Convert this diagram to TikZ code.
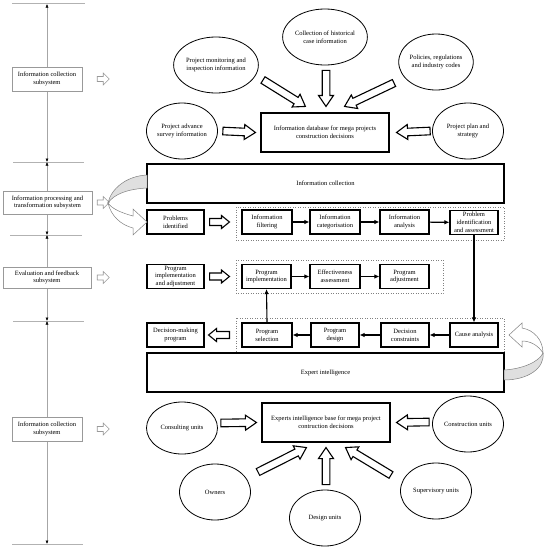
\documentclass[tikz,border=0pt]{standalone}
\usepackage{fontspec}
\setmainfont{Liberation Serif}
\usetikzlibrary{shapes.geometric,arrows.meta,calc}

% hollow block arrow: [style]{from}{to}{shaft half width}{head half width}{head length}
\newcommand{\hollowarrow}[6][]{%
  \path let \p1=#2, \p2=#3, \n1={atan2(\y2-\y1,\x2-\x1)}, \n2={veclen(\x2-\x1,\y2-\y1)} in
    \pgfextra{\xdef\harot{\n1}\xdef\halen{\n2}\xdef\hax{\x1}\xdef\hay{\y1}};
  \draw[#1,shift={(\hax,\hay)},rotate=\harot]
    (0,-#4) -- ({\halen-#6},-#4) -- ({\halen-#6},-#5) -- (\halen,0)
    -- ({\halen-#6},#5) -- ({\halen-#6},#4) -- (0,#4) -- cycle;
}

\begin{document}
\begin{tikzpicture}[x=1pt,y=-1pt,font=\fontsize{6.5}{7.8}\selectfont,
  box/.style={draw,line width=1.1pt,inner sep=1pt,align=center,minimum height=24pt},
  bigbox/.style={draw,line width=1.1pt,minimum width=357pt,minimum height=39pt},
  blob/.style={draw,ellipse,line width=0.8pt,minimum width=71pt,minimum height=56pt,inner sep=0pt,align=center},
  sidebox/.style={draw=gray!80,line width=0.5pt,fill=white,align=center,inner sep=1pt},
  groupframe/.style={draw=gray,dotted,line width=0.5pt},
  flow/.style={line width=1.1pt,-{Latex[length=5pt,width=4.5pt]}},
  hollow/.style={draw=black,line width=1.1pt,fill=white},
  hollowgray/.style={draw=gray!80,line width=0.6pt,fill=white},
  tickline/.style={gray!60,line width=0.5pt},
  spanline/.style={gray!70,line width=0.5pt,{Latex[black,length=3.5pt,width=3pt]}-{Latex[black,length=3.5pt,width=3pt]}}]
  \useasboundingbox (0,0) rectangle (548,550);

  % left time line
  \draw[tickline] (12,3) -- (85,3);
  \draw[tickline] (13,162) -- (84,162);
  \draw[tickline] (10,235) -- (82,235);
  \draw[tickline] (13,321) -- (84,321);
  \draw[tickline] (12,544) -- (83,544);
  \draw[spanline] (47,4) -- (47,162);
  \draw[spanline] (47,162) -- (47,235);
  \draw[spanline] (47,235) -- (47,321);
  \draw[spanline] (47,321) -- (47,544);
  \node[sidebox,minimum width=70pt,minimum height=24pt] (sub1) at (47,79) {Information collection\\subsystem};
  \node[sidebox,minimum width=89pt,minimum height=23pt] (sub2) at (47.5,202.5) {Information processing and\\transformation subsystem};
  \node[sidebox,minimum width=88pt,minimum height=21pt] (sub3) at (47,277.5) {Evaluation and feedback\\subsystem};
  \node[sidebox,minimum width=70pt,minimum height=24pt] (sub4) at (47,429) {Information collection\\subsystem};
  \hollowarrow[hollowgray]{($(sub1.east)+(15,0)$)}{($(sub1.east)+(27,0)$)}{2.5}{6}{6}
  \hollowarrow[hollowgray]{($(sub2.east)+(5,0)$)}{($(sub2.east)+(17,0)$)}{2.5}{6}{6}
  \hollowarrow[hollowgray]{($(sub3.east)+(6,0)$)}{($(sub3.east)+(18,0)$)}{2.5}{6}{6}
  \hollowarrow[hollowgray]{($(sub4.east)+(15,0)$)}{($(sub4.east)+(27,0)$)}{2.5}{6}{6}

  % information sources
  \node[blob] (hist) at (325,37) {Collection of historical\\case information};
  \node[blob] (mon) at (216,65) {Project monitoring and\\inspection information};
  \node[blob] (pol) at (436,62) {Policies, regulations\\and industry codes};
  \node[blob] (survey) at (182,131) {Project advance\\survey information};
  \node[blob] (plan) at (468,131) {Project plan and\\strategy};
  \node[box,minimum width=128pt,minimum height=39pt] (db) at (325,132.5) {Information database for mega projects\\construction decisions};
  \hollowarrow[hollow]{($(mon)+(47,15)$)}{($(db.north west)+(45,-6)$)}{3.8}{7.5}{11}
  \hollowarrow[hollow]{($(hist.south)+(1,5)$)}{($(db.north)+(1,-6)$)}{3.8}{7.5}{11}
  \hollowarrow[hollow]{($(pol)+(-42,21)$)}{($(db.north east)+(-45,-6)$)}{3.8}{7.5}{11}
  \hollowarrow[hollow]{($(survey.east)+(5,0)$)}{($(db.west)+(-5,0)$)}{3.8}{7.5}{11}
  \hollowarrow[hollow]{($(plan.west)+(-2,0)$)}{($(db.east)+(7,0)$)}{3.8}{7.5}{11}

  % processing
  \node[bigbox] (collect) at (325.5,183.5) {Information collection};
  \draw[groupframe] (236,207) rectangle (504,240);
  \node[box,minimum width=57pt] (probl) at (175.5,222) {Problems\\identified};
  \node[box,minimum width=50pt] (filter) at (267,222) {Information\\filtering};
  \node[box,minimum width=50pt] (categ) at (335,222) {Information\\categorisation};
  \node[box,minimum width=49pt] (analys) at (404.5,222) {Information\\analysis};
  \node[box,minimum width=48pt] (ident) at (474,222.5) {Problem\\identification\\and assessment};
  \hollowarrow[hollow]{($(probl.east)+(5,0)$)}{($(filter.west)+(-12,0)$)}{3.5}{6.5}{8}
  \draw[flow] (filter) -- (categ);
  \draw[flow] (categ) -- (analys);
  \draw[flow] (analys) -- (ident);

  % evaluation
  \draw[groupframe] (236,260) rectangle (443,293);
  \node[box,minimum width=57pt] (impadj) at (175.5,276.5) {Program\\implementation\\and adjustment};
  \node[box,minimum width=49pt] (impl) at (266.5,276.5) {Program\\implementation};
  \node[box,minimum width=50pt] (effect) at (335,276.5) {Effectiveness\\assessment};
  \node[box,minimum width=49pt] (adjust) at (404.5,276.5) {Program\\adjustment};
  \hollowarrow[hollow]{($(impadj.east)+(5,0)$)}{($(impl.west)+(-12,0)$)}{3.5}{6.5}{8}
  \draw[flow] (impl) -- (effect);
  \draw[flow] (effect) -- (adjust);

  % decision
  \draw[groupframe] (236,318) rectangle (504,352);
  \node[box,minimum width=57pt] (dmp) at (175.5,335) {Decision-making\\program};
  \node[box,minimum width=50pt] (select) at (267,335) {Program\\selection};
  \node[box,minimum width=48pt] (design) at (335,335) {Program\\design};
  \node[box,minimum width=48pt] (constr) at (405,335) {Decision\\constraints};
  \node[box,minimum width=48pt] (cause) at (474,335) {Cause analysis};
  \hollowarrow[hollow]{($(select.west)+(-12,0)$)}{($(dmp.east)+(4,0)$)}{3.5}{6.5}{8}
  \draw[flow] (cause) -- (constr);
  \draw[flow] (constr) -- (design);
  \draw[flow] (design) -- (select);
  \draw[flow] (ident.south) -- (cause.north);
  \draw[flow] (select.north) -- (impl.south);
  \node[bigbox] (expert) at (325.5,372.5) {Expert intelligence};

  % curved arrows
  \draw[gray,line width=0.5pt,fill=gray!25] (147,175) .. controls (126,176) and (111,189) .. (108,203)
    .. controls (114,194) and (128,189) .. (147,188) -- cycle;
  \draw[gray,line width=0.5pt,fill=white] (108,203) .. controls (111,216) and (121,225) .. (133,228)
    -- (133,235) -- (147,222) -- (133,209) -- (133,216) .. controls (122,213) and (112,209) .. (108,203) -- cycle;
  \draw[gray,line width=0.5pt,fill=white] (522,328) .. controls (534,330) and (543,340) .. (543,353)
    .. controls (538,345) and (530,341) .. (522,341) -- (522,347) -- (509,335) -- (522,323) -- cycle;
  \draw[gray,line width=0.5pt,fill=gray!25] (543,353) .. controls (539,362) and (522,369) .. (504,370)
    -- (504,380) .. controls (528,380) and (545,368) .. (543,353) -- cycle;

  % expert sources
  \node[box,minimum width=128pt,minimum height=39pt] (base) at (326,422.5) {Experts intelligence base for mega project\\contruction decisions};
  \node[blob,minimum height=52pt] (consult) at (182,428) {Consulting units};
  \node[blob] (build) at (468,424) {Construction units};
  \node[blob] (owners) at (215,492) {Owners};
  \node[blob] (designu) at (325,518) {Design units};
  \node[blob] (superv) at (436,491) {Supervisory units};
  \hollowarrow[hollow]{($(consult.east)+(3,-5)$)}{($(base.west)+(-5,0)$)}{3.8}{7.5}{11}
  \hollowarrow[hollow]{($(build.west)+(-3,-2)$)}{($(base.east)+(6,0)$)}{3.8}{7.5}{11}
  \hollowarrow[hollow]{($(owners)+(43,-20)$)}{($(base.south west)+(45,5)$)}{3.8}{7.5}{11}
  \hollowarrow[hollow]{($(designu.north)+(1,-5)$)}{($(base.south)+(0,5)$)}{3.8}{7.5}{11}
  \hollowarrow[hollow]{($(superv)+(-45,-16)$)}{($(base.south east)+(-45,5)$)}{3.8}{7.5}{11}
\end{tikzpicture}
\end{document}
